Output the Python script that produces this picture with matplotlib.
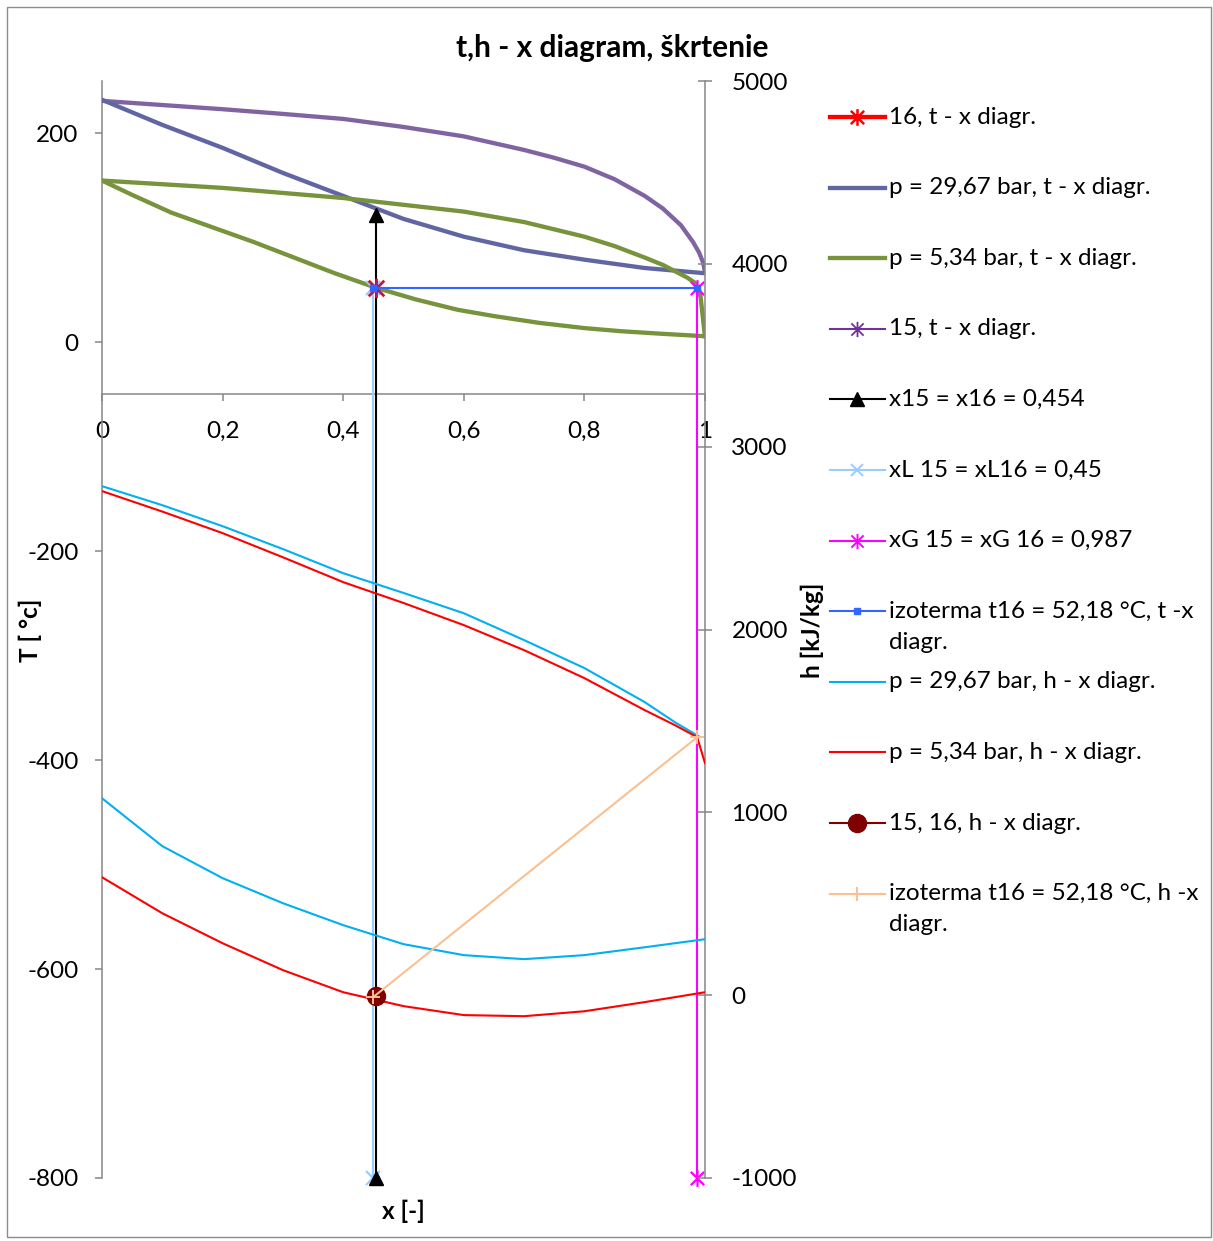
import matplotlib
matplotlib.use('Agg')
import matplotlib.pyplot as plt
from matplotlib.path import Path
from matplotlib.lines import Line2D
from matplotlib.patches import Rectangle

plt.rcParams['font.family'] = ['Lato', 'DejaVu Sans']
plt.rcParams['axes.unicode_minus'] = False

# ---------------- data ----------------
# t - x diagram (left axis, T in degC)
x_dew_hp = [0.0, 0.1, 0.2, 0.3, 0.4, 0.5, 0.6, 0.7, 0.75, 0.8, 0.85, 0.9, 0.93, 0.96, 0.98, 0.99, 0.997, 1.0]
t_dew_hp = [231.0, 227.0, 223.0, 218.5, 213.7, 206.0, 197.0, 184.0, 176.5, 168.0, 156.0, 140.0,
            128.0, 112.0, 96.0, 86.0, 76.0, 67.0]
x_bub_hp = [0.0, 0.05, 0.1, 0.15, 0.2, 0.3, 0.4, 0.5, 0.6, 0.7, 0.8, 0.9, 1.0]
t_bub_hp = [232.0, 220.0, 208.0, 197.0, 186.0, 162.0, 140.0, 118.0, 101.0, 88.0, 79.0, 71.0, 66.0]

x_dew_lp = [0.0, 0.2, 0.4, 0.6, 0.7, 0.8, 0.85, 0.9, 0.93, 0.95, 0.97, 0.983, 0.992, 1.0]
t_dew_lp = [154.7, 147.7, 138.0, 125.0, 115.0, 101.0, 92.0, 81.0, 74.0, 68.0, 62.0, 57.0, 47.0, 5.0]
x_bub_lp = [0.0, 0.05, 0.115, 0.251, 0.386, 0.454, 0.52, 0.59, 0.65, 0.725, 0.8, 0.861, 0.93, 1.0]
t_bub_lp = [154.7, 141.0, 124.0, 96.0, 66.0, 52.18, 41.0, 31.0, 25.0, 18.5, 13.5, 10.5, 8.0, 5.7]

x_state = [0.454]
t_state16 = [52.18]
t_state15 = [52.18]

x15_x = [0.454, 0.454]
x15_t = [-800, 122]
xL_x = [0.45, 0.45]
xL_t = [-800, 52.18]
xG_x = [0.987, 0.987]
xG_t = [-800, 52.18]
iso_tx_x = [0.45, 0.987]
iso_tx_t = [52.18, 52.18]

# h - x diagram (right axis, h in kJ/kg)
x_h = [0.0, 0.1, 0.2, 0.3, 0.4, 0.5, 0.6, 0.7, 0.8, 0.9, 1.0]
h_liq_hp = [1077, 815, 640, 503, 383, 279, 219, 197, 219, 262, 306]
h_liq_lp = [645, 448, 284, 137, 16, -60, -109, -115, -88, -38, 16]
x_hv_hp = [0.0, 0.1, 0.2, 0.3, 0.4, 0.5, 0.6, 0.7, 0.8, 0.9, 0.95, 0.99]
h_vap_hp = [2784, 2680, 2565, 2440, 2308, 2200, 2089, 1942, 1789, 1603, 1493, 1415]
x_hv_lp = [0.0, 0.1, 0.2, 0.3, 0.4, 0.5, 0.6, 0.7, 0.8, 0.9, 0.95, 0.987, 1.0]
h_vap_lp = [2757, 2645, 2527, 2395, 2259, 2145, 2024, 1887, 1734, 1559, 1477, 1411, 1269]

x_pt_h = [0.454]
h_pt = [-5]
iso_hx_x = [0.45, 0.987]
iso_hx_h = [-10, 1411]

x_ticks = [0, 0.2, 0.4, 0.6, 0.8, 1.0]
x_ticklabels = ['0', '0,2', '0,4', '0,6', '0,8', '1']
t_ticks = [-800, -600, -400, -200, 0, 200]
h_ticks = [-1000, 0, 1000, 2000, 3000, 4000, 5000]

labels = ['16, t - x diagr.', 'p = 29,67 bar, t - x diagr.', 'p = 5,34 bar, t - x diagr.',
          '15, t - x diagr.', 'x15 = x16 = 0,454', 'xL 15 = xL16 = 0,45',
          'xG 15 = xG 16 = 0,987', 'izoterma t16 = 52,18 °C, t -x\ndiagr.',
          'p = 29,67 bar, h - x diagr.', 'p = 5,34 bar, h - x diagr.',
          '15, 16, h - x diagr.', 'izoterma t16 = 52,18 °C, h -x\ndiagr.']

# ---------------- styles ----------------
W, H = 1213, 1241
AX_GRAY = '#868686'
C_RED = '#FF0000'
C_PURP_UP = '#8064A2'
C_PURP_LO = '#6166A3'
C_GREEN = '#77933C'
C_PURPLE = '#7030A0'
C_LBLUE = '#99CCFF'
C_MAG = '#FF00FF'
C_BLUE = '#3366FF'
C_CYAN = '#00B0F0'
C_DRED = '#800000'
C_PEACH = '#FAC090'

star = Path([(0, -1), (0, 1), (-0.8, -0.8), (0.8, 0.8), (-0.8, 0.8), (0.8, -0.8)],
            [Path.MOVETO, Path.LINETO, Path.MOVETO, Path.LINETO, Path.MOVETO, Path.LINETO])

TICK_FS = 17.5
THICK = 3.1
THIN = 1.5

fig = plt.figure(figsize=(W / 100, H / 100), dpi=100)
fig.patch.set_facecolor('white')
fig.add_artist(Rectangle((7 / W, 1 - 1237 / H), (1211 - 7) / W, (1237 - 7) / H,
                         transform=fig.transFigure, fill=False, edgecolor='#8c8c8c', lw=1.0))

left, right, top, bottom = 102, 705, 81, 1178
ax = fig.add_axes([left / W, 1 - bottom / H, (right - left) / W, (bottom - top) / H])
ax2 = ax.twinx()
ax.set_facecolor('none')

ax.set_xlim(0, 1)
ax.set_ylim(-800, 250)
ax2.set_ylim(-1000, 5000)

# t-x series
ax.plot(x_dew_hp, t_dew_hp, color=C_PURP_UP, lw=THICK, solid_capstyle='round',
        solid_joinstyle='round', zorder=3)
ax.plot(x_bub_hp, t_bub_hp, color=C_PURP_LO, lw=THICK, solid_capstyle='round',
        solid_joinstyle='round', zorder=3)
ax.plot(x_dew_lp, t_dew_lp, color=C_GREEN, lw=THICK, solid_capstyle='round',
        solid_joinstyle='round', zorder=3)
ax.plot(x_bub_lp, t_bub_lp, color=C_GREEN, lw=THICK, solid_capstyle='round',
        solid_joinstyle='round', zorder=3)
ax.plot(x_state, t_state16, color=C_RED, lw=THICK, marker=star, ms=14, mew=2.0, zorder=5)
ax.plot(x_state, t_state15, color=C_PURPLE, lw=THIN, marker=star, ms=11, mew=1.2, zorder=5)
ax.plot(xL_x, xL_t, color=C_LBLUE, lw=THIN, marker='x', ms=10, mew=1.6, clip_on=False, zorder=4)
ax.plot(x15_x, x15_t, color='black', lw=THIN, marker='^', ms=10, clip_on=False, zorder=4)
ax.plot(xG_x, xG_t, color=C_MAG, lw=THIN, marker=star, ms=12, mew=1.6, clip_on=False, zorder=4)
ax.plot(iso_tx_x, iso_tx_t, color=C_BLUE, lw=THIN, marker='s', ms=4, zorder=6)

# h-x series
ax2.plot(x_hv_hp, h_vap_hp, color=C_CYAN, lw=THIN, solid_joinstyle='round', zorder=3)
ax2.plot(x_hv_lp, h_vap_lp, color=C_RED, lw=THIN, solid_joinstyle='round', zorder=3)
ax2.plot(x_h, h_liq_hp, color=C_CYAN, lw=THIN, zorder=3)
ax2.plot(x_h, h_liq_lp, color=C_RED, lw=THIN, zorder=3)
ax2.plot(x_pt_h, h_pt, color=C_DRED, lw=THIN, marker='o', ms=13, zorder=4)
ax2.plot(iso_hx_x, iso_hx_h, color=C_PEACH, lw=THIN, marker='+', ms=10, mew=1.4, zorder=5)

# axes styling
for s in ['top', 'right']:
    ax.spines[s].set_visible(False)
ax.spines['bottom'].set_position(('data', -50))
for s in ['left', 'bottom']:
    ax.spines[s].set_color(AX_GRAY)
    ax.spines[s].set_linewidth(1.1)
for s in ['top', 'left', 'bottom']:
    ax2.spines[s].set_visible(False)
ax2.spines['right'].set_color(AX_GRAY)
ax2.spines['right'].set_linewidth(1.1)

ax.set_xticks(x_ticks)
ax.set_xticklabels(x_ticklabels)
ax.set_yticks(t_ticks)
ax.set_yticklabels([str(v) for v in t_ticks])
ax2.set_yticks(h_ticks)
ax2.set_yticklabels([str(v) for v in h_ticks])

ax.tick_params(axis='x', direction='out', length=5, width=1.1, color=AX_GRAY,
               labelsize=TICK_FS, pad=14)
ax.tick_params(axis='y', direction='out', length=5, width=1.1, color=AX_GRAY,
               labelsize=TICK_FS, pad=12)
ax2.tick_params(axis='y', direction='inout', length=10, width=1.1, color=AX_GRAY,
                labelsize=TICK_FS, pad=14)

# titles
fig.text(612 / W, 1 - 48 / H, 't,h - x diagram, škrtenie', ha='center', va='center',
         fontsize=21.5, fontweight='bold')
fig.text(403 / W, 1 - 1211 / H, 'x [-]', ha='center', va='center', fontsize=17.5, fontweight='bold')
fig.text(30 / W, 1 - 630 / H, 'T [ °c]', ha='center', va='center', rotation=90,
         fontsize=17.5, fontweight='bold')
fig.text(812 / W, 1 - 630 / H, 'h [kJ/kg]', ha='center', va='center', rotation=90,
         fontsize=17.5, fontweight='bold')

# legend (manual, Excel-like uniform spacing)
lax = fig.add_axes([0, 0, 1, 1])
lax.set_xlim(0, W)
lax.set_ylim(H, 0)
lax.axis('off')
handles = [
    dict(color=C_RED, lw=THICK, marker=star, ms=12, mew=1.8),
    dict(color=C_PURP_LO, lw=THICK),
    dict(color=C_GREEN, lw=THICK),
    dict(color=C_PURPLE, lw=THIN, marker=star, ms=11, mew=1.3),
    dict(color='black', lw=THIN, marker='^', ms=10),
    dict(color=C_LBLUE, lw=THIN, marker='x', ms=9, mew=1.4),
    dict(color=C_MAG, lw=THIN, marker=star, ms=11, mew=1.4),
    dict(color=C_BLUE, lw=THIN, marker='s', ms=4),
    dict(color=C_CYAN, lw=THIN),
    dict(color=C_RED, lw=THIN),
    dict(color=C_DRED, lw=THIN, marker='o', ms=13),
    dict(color=C_PEACH, lw=THIN, marker='+', ms=10, mew=1.4),
]
y0, dy = 117, 70.6
for i, (lab, hs) in enumerate(zip(labels, handles)):
    y = y0 + i * dy
    lax.add_line(Line2D([830, 857, 885], [y, y, y], markevery=[1], **hs))
    lines = lab.split('\n')
    for j, ln in enumerate(lines):
        lax.text(889, y + j * 31, ln, ha='left', va='center', fontsize=TICK_FS)

fig.savefig('out.png', dpi=100)
